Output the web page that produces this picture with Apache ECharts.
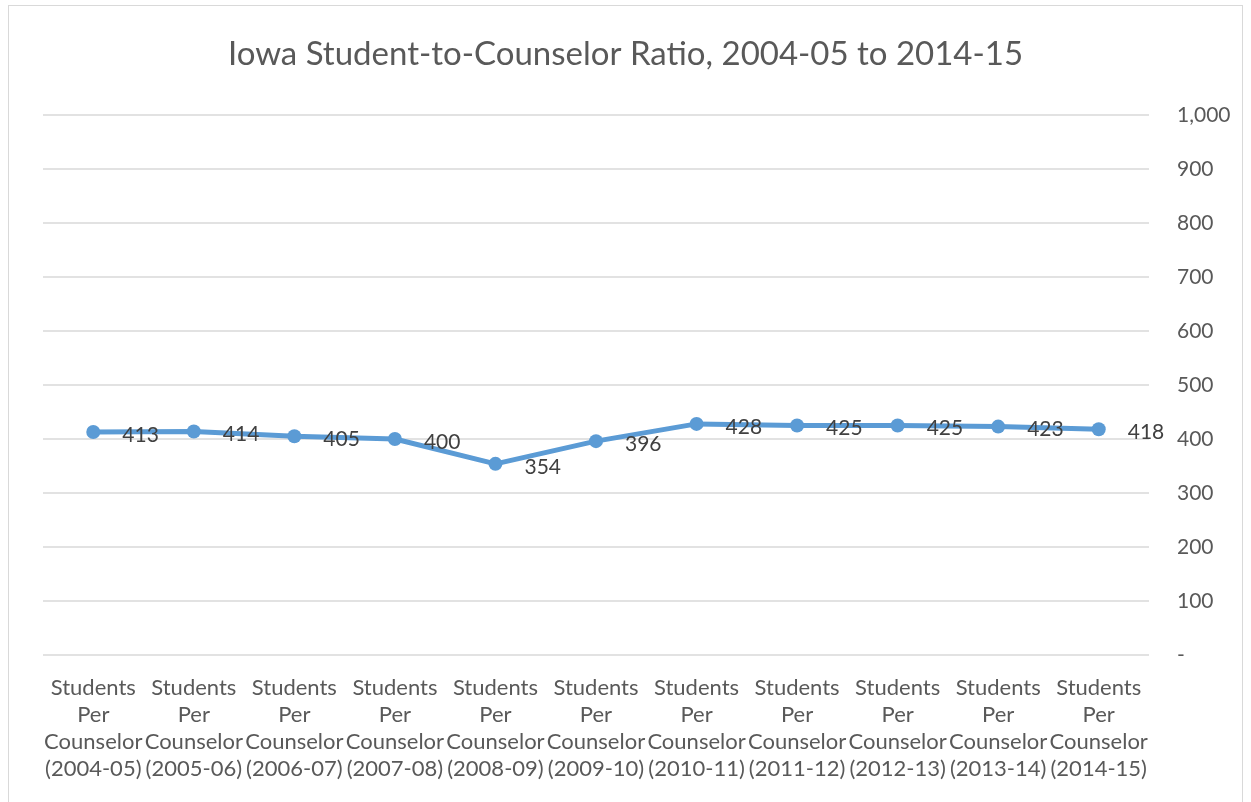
<!DOCTYPE html>
<html>
<head>
<meta charset="utf-8">
<script src="https://cdn.jsdelivr.net/npm/echarts@6/dist/echarts.min.js"></script>
<style>
  html, body { margin: 0; padding: 0; background: #fff; }
  #frame { position: absolute; left: 8px; top: 5px; width: 1235px; height: 805px; border: 1px solid #d9d9d9; box-sizing: border-box; }
  #chart { width: 1251px; height: 802px; }
</style>
</head>
<body>
<div id="frame"></div>
<div id="chart"></div>
<script>
// school years
const years = ['2004-05', '2005-06', '2006-07', '2007-08', '2008-09', '2009-10',
  '2010-11', '2011-12', '2012-13', '2013-14', '2014-15'];
const ratios = [413, 414, 405, 400, 354, 396, 428, 425, 425, 423, 418];

const categories = years.map(y => 'Students\nPer\nCounselor\n(' + y + ')');

const chart = echarts.init(document.getElementById('chart'));
const font = 'Lato, "Open Sans", sans-serif';

chart.setOption({
  animation: false,
  textStyle: { fontFamily: font },
  title: {
    text: 'Iowa Student-to-Counselor Ratio, 2004-05 to 2014-15',
    left: 'center',
    top: 33,
    textStyle: { fontSize: 33, fontWeight: 'normal', color: '#595959', fontFamily: font }
  },
  grid: { left: 43, right: 102, top: 115, bottom: 147 },
  xAxis: {
    type: 'category',
    data: categories,
    boundaryGap: true,
    axisLine: { show: false },
    axisTick: { show: false },
    axisLabel: {
      interval: 0,
      margin: 19,
      fontSize: 22,
      lineHeight: 27,
      color: '#595959',
      align: 'center'
    }
  },
  yAxis: {
    type: 'value',
    position: 'right',
    min: 0,
    max: 1000,
    interval: 100,
    axisLine: { show: false },
    axisTick: { show: false },
    splitLine: { lineStyle: { color: '#d9d9d9', width: 1.5 } },
    axisLabel: {
      margin: 28,
      fontSize: 21,
      color: '#595959',
      formatter: v => v === 0 ? '-' : v.toLocaleString('en-US')
    }
  },
  series: [{
    type: 'line',
    data: ratios,
    symbol: 'circle',
    symbolSize: 14,
    lineStyle: { color: '#5b9bd5', width: 5 },
    itemStyle: { color: '#5b9bd5' },
    label: {
      show: true,
      position: 'right',
      distance: 22,
      offset: [0, 3],
      fontSize: 21,
      color: '#404040'
    }
  }]
});
</script>
</body>
</html>
